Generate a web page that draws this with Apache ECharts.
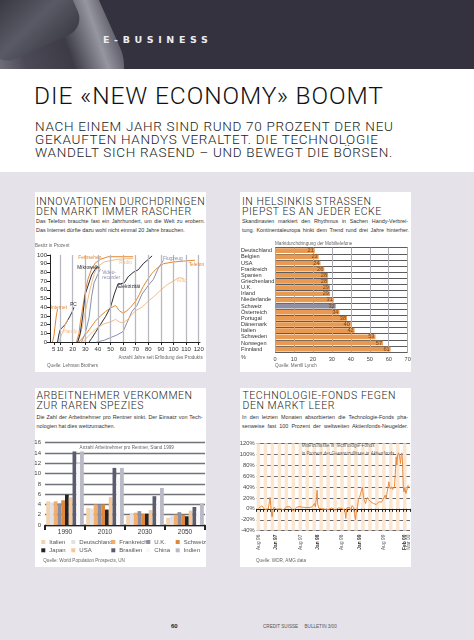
<!DOCTYPE html>
<html><head><meta charset="utf-8">
<script src="https://cdn.jsdelivr.net/npm/echarts@6/dist/echarts.min.js"></script>
<style>
html,body{margin:0;padding:0;}
body{width:474px;height:640px;position:relative;overflow:hidden;background:#e5e3e9;font-family:"Liberation Sans",Arial,sans-serif;color:#222;}
.abs{position:absolute;}
#banner{left:0;top:0;width:474px;height:69px;background:#34323f;overflow:hidden;}
#white{left:0;top:69px;width:474px;height:103px;background:#fff;}
.panel{position:absolute;background:#fff;}
.ttl{position:absolute;font-family:Roboto,"Liberation Sans",sans-serif;font-weight:300;font-size:10.5px;line-height:10px;color:#1e1e22;white-space:nowrap;letter-spacing:0.55px;}
.dl{position:absolute;font-size:5.4px;line-height:9.2px;height:9.2px;color:#333;white-space:nowrap;}
.j{text-align:justify;text-align-last:justify;}
#chart{position:absolute;left:0;top:0;width:474px;height:640px;z-index:5;}
</style></head><body>
<div id="banner" class="abs">
  <div class="abs" style="left:-55px;top:-45px;width:165px;height:175px;border-radius:45px;transform:rotate(-24deg);background:linear-gradient(95deg,#c4c4cc 0%,#85858f 22%,#4b4a56 45%,#3c3b46 70%,#9696a0 88%,#55545f 100%);"></div>
  <div class="abs" style="left:-20px;top:-20px;width:95px;height:70px;border-radius:18px;transform:rotate(-24deg);background:linear-gradient(160deg,#2a2a33,#5a5a66 60%,#3a3a44);"></div>
  <div class="abs" style="left:103px;top:34px;font-family:'DejaVu Sans',sans-serif;font-weight:bold;font-size:9.5px;letter-spacing:4.6px;color:#ececf2;">E-BUSINESS</div>
</div>
<div id="white" class="abs"></div>
<div class="abs" style="left:34px;top:84.4px;font-family:Roboto,'Liberation Sans',sans-serif;font-weight:300;font-size:24.5px;line-height:24.5px;color:#111;white-space:nowrap;letter-spacing:0.9px;">DIE «NEW ECONOMY» BOOMT</div>
<div class="abs" style="left:35px;top:119.7px;font-family:Roboto,'Liberation Sans',sans-serif;font-weight:300;font-size:13.5px;line-height:13.3px;color:#222;white-space:nowrap;letter-spacing:0.7px;">NACH EINEM JAHR SIND RUND 70 PROZENT DER NEU<br>GEKAUFTEN HANDYS VERALTET. DIE TECHNOLOGIE<br>WANDELT SICH RASEND – UND BEWEGT DIE BÖRSEN.</div>

<div class="panel" style="left:35px;top:192px;width:171px;height:180px;"></div>
<div class="panel" style="left:240px;top:192px;width:171px;height:180px;"></div>
<div class="panel" style="left:35px;top:388px;width:171px;height:179px;"></div>
<div class="panel" style="left:240px;top:388px;width:171px;height:179px;"></div>

<div class="ttl" style="left:36px;top:196.9px;">INNOVATIONEN DURCHDRINGEN<br>DEN MARKT IMMER RASCHER</div>
<div class="dl j" style="left:36px;top:217.2px;width:169px;">Das Telefon brauchte fast ein Jahrhundert, um die Welt zu erobern.</div>
<div class="dl" style="left:36px;top:226.4px;">Das Internet dürfte dazu wohl nicht einmal 20 Jahre brauchen.</div>

<div class="ttl" style="left:242px;top:196.9px;">IN HELSINKIS STRASSEN<br>PIEPST ES AN JEDER ECKE</div>
<div class="dl j" style="left:242px;top:217.2px;width:166px;">Skandinavien markiert den Rhythmus in Sachen Handy-Verbrei-</div>
<div class="dl j" style="left:242px;top:226.4px;width:167px;">tung. Kontinentaleuropa hinkt dem Trend rund drei Jahre hinterher.</div>

<div class="ttl" style="left:36.5px;top:391.4px;">ARBEITNEHMER VERKOMMEN<br>ZUR RAREN SPEZIES</div>
<div class="dl j" style="left:36.5px;top:412.8px;width:166px;">Die Zahl der Arbeitnehmer pro Rentner sinkt. Der Einsatz von Tech-</div>
<div class="dl" style="left:36.5px;top:422px;">nologien hat dies wettzumachen.</div>

<div class="ttl" style="left:242.5px;top:391.4px;">TECHNOLOGIE-FONDS FEGEN<br>DEN MARKT LEER</div>
<div class="dl j" style="left:242px;top:413.3px;width:166px;">In den letzten Monaten absorbierten die Technologie-Fonds pha-</div>
<div class="dl j" style="left:242px;top:422px;width:166px;">senweise fast 100 Prozent der weltweiten Aktienfonds-Neugelder.</div>

<div class="abs" style="left:171px;top:623px;font-size:6px;font-weight:bold;color:#222;">60</div>
<div class="abs" style="left:263px;top:624px;font-size:4.6px;color:#555;white-space:nowrap;">CREDIT SUISSE &nbsp;&nbsp;&nbsp; BULLETIN 3/00</div>

<div id="chart"></div>
<script>
// ---------- Chart 1: Innovationen ----------
const innovXLabels = [5,10,20,30,40,50,60,70,80,90,100,110,120];
const innovGridX = [10,20,30,40,50,60,70,80,90,100,110,120];
const innovInternet = [[4,0],[5,6],[6,18],[7,30],[8,38]];
const innovPC = [[8,0],[9,8],[10,14],[12,17],[14,20],[16,25],[18,30],[20,36],[21,40]];
const innovHandy = [[9,0],[10,4],[11,8],[12,11],[13,15],[14,19],[15,23],[16,26]];
const innovFernsehen = [[23,0],[25,10],[26,22],[28,40],[30,58],[32,72],[35,84],[38,91],[42,95],[48,98],[60,98],[68,98]];
const innovRadio = [[24,0],[26,8],[28,20],[31,42],[34,62],[37,78],[40,87],[45,92],[55,95],[68,96]];
const innovMikrowelle = [[24,0],[26,10],[28,30],[30,55],[32,64],[35,77],[38,84],[40,87]];
const innovVideo = [[27,0],[30,10],[33,28],[35,52],[37,68],[40,78],[42,84]];
const innovElektrizitaet = [[33,0],[35,4],[38,11],[42,20],[46,29],[50,40],[53,55],[56,67],[58,67],[61,68],[64,75],[68,80],[72,83],[76,90],[80,95],[83,99]];
const innovFlugzeug = [[39,0],[45,2],[50,5],[55,8],[60,12],[63,22],[67,35],[71,42],[75,55],[80,65],[84,72],[88,85],[92,94]];
const innovTelefon = [[25,0],[28,5],[31,10],[34,16],[38,24],[42,30],[46,35],[50,39],[54,42],[57,36],[60,33],[63,36],[66,40],[70,47],[73,55],[76,64],[80,73],[83,79],[87,85],[92,90],[100,92],[108,93],[117,94]];
const innovAuto = [[28,0],[32,6],[36,12],[40,17],[45,21],[50,23],[54,26],[57,23],[60,22],[63,25],[66,30],[70,36],[75,40],[80,47],[85,53],[90,60],[95,66],[100,70],[104,74],[108,73]];
const innovLabels = [
  ['Internet',2.6,40,'orange'],['PC',18,43,'dark'],['Handy',12.5,12,'peach'],
  ['Fernsehen',24.5,97,'orange'],['Radio',57,91,'peach'],['Mikrowelle',23.7,85.5,'dark'],
  ['Video-\nrecorder',43.4,77,'gray'],['Elektrizität',56,64,'dark'],['Flugzeug',91.6,95.5,'gray'],
  ['Telefon',112,89,'orange'],['Auto',102.6,71,'peach']
];

// ---------- Chart 2: Helsinki ----------
const mobileCountries = ['Deutschland','Belgien','USA','Frankreich','Spanien','Griechenland','U.K.','Irland','Niederlande','Schweiz','Österreich','Portugal','Dänemark','Italien','Schweden','Norwegen','Finnland'];
const mobileValues = [21,23,24,26,28,28,29,29,31,32,34,38,40,42,53,57,61];

// ---------- Chart 3: Arbeitnehmer ----------
const workerYears = ['1990','2010','2030','2050'];
const workerCountries = ['Italien','Deutschland','Frankreich','U.K.','Schweiz','Japan','USA','Brasilien','China','Indien'];
const workerItalien = [4.6,3.3,1.8,1.4];
const workerDeutschland = [4.4,3.2,2.2,1.7];
const workerFrankreich = [4.6,4.0,2.4,2.0];
const workerUK = [4.2,4.0,2.7,2.5];
const workerSchweiz = [4.8,4.0,2.2,2.0];
const workerJapan = [5.9,3.0,2.2,1.7];
const workerUSA = [5.4,5.4,2.9,2.8];
const workerBrasilien = [14.3,11.1,5.6,3.5];
const workerChina = [12.0,9.2,4.8,2.7];
const workerIndien = [14.3,11.1,7.2,4.2];

// ---------- Chart 4: Technologie-Fonds ----------
const fundMonthLabels = ['Aug 96','Sep 96','Okt 96','Nov 96','Dez 96','Jan 97','Feb 97','Mar 97','Apr 97','Mai 97','Jun 97','Jul 97','Aug 97','Sep 97','Okt 97','Nov 97','Dez 97','Jan 98','Feb 98','Mar 98','Apr 98','Mai 98','Jun 98','Jul 98','Aug 98','Sep 98','Okt 98','Nov 98','Dez 98','Jan 99','Feb 99','Mar 99','Apr 99','Mai 99','Jun 99','Jul 99','Aug 99','Sep 99','Okt 99','Nov 99','Dez 99','Jan 00','Feb 00','Mar 00'];
const fundShownLabels = ['Aug 96','Jan 97','Aug 97','Jan 98','Aug 98','Jan 99','Aug 99','Feb 00','Mar 00'];
const fundBoldLabels = ['Jan 97','Jan 98','Jan 99','Feb 00'];
const fundTime = [0.48,0.96,1.44,1.92,2.39,2.87,3.35,3.64,3.83,4.02,4.21,4.41,4.69,4.98,5.36,5.75,6.23,6.70,7.18,7.66,8.14,8.62,9.10,9.58,10.06,10.54,10.82,11.21,11.69,12.16,12.64,13.12,13.60,14.08,14.56,15.04,15.52,15.90,16.28,16.57,16.86,17.15,17.34,17.53,17.82,18.20,18.68,19.16,19.64,20.11,20.59,21.07,21.55,22.03,22.51,22.99,23.47,23.95,24.43,24.90,25.29,25.57,25.86,26.25,26.63,27.01,27.39,27.78,28.07,28.35,28.64,28.93,29.21,29.50,29.79,30.08,30.36,30.65,30.94,31.23,31.51,31.80,32.09,32.38,32.76,33.14,33.52,33.91,34.29,34.67,35.06,35.44,35.82,36.21,36.59,36.88,37.16,37.45,37.74,37.93,38.12,38.41,38.70,38.98,39.27,39.56,39.85,40.04,40.23,40.42,40.71,41.00,41.28,41.48,41.67,41.86,42.05,42.24,42.53,42.82,43.10,43.39,43.68,43.97];
const fundShare = [0.6,3.7,5.5,2.4,-1.2,-2.4,0,12.8,20.8,6.7,-5.5,-14.7,-2.4,3.1,3.7,-0.6,1.8,0,-2.4,-1.8,1.2,3.7,2.4,3.7,0.6,-4.3,-1.8,1.8,3.1,4.3,4.9,3.1,1.8,2.4,1.8,2.4,0,3.7,6.1,9.8,3.7,22,34.2,8.5,1.2,-0.6,0,-2.4,-0.6,1.2,-1.2,0,1.8,-0.6,-2.4,0,1.8,-0.6,0.6,-1.2,-2.4,-17.7,1.8,-0.6,2.4,-2.4,6.1,2.4,-8.5,-19.5,-3.7,3.7,17.1,20.8,26.9,34.2,39.1,20.8,14.7,9.8,17.1,20.8,17.1,14.7,12.8,13.4,9.8,8.5,7.9,9.8,12.8,14.7,12.2,17.1,20.8,25,19.5,31.1,41.5,49.5,41.5,36.6,40.3,35.4,37.3,40.3,73.9,95.3,80,98.3,102.6,96.5,83.1,98.3,102.6,86.1,40.3,31.1,39.1,28.1,34.2,42.7,41.5,39.1];

// ---------- styling ----------
const FONT = '"Liberation Sans", Arial, sans-serif';
const C = {orange:'#e4862f', peach:'#f2bc86', dark:'#2b2b35', gray:'#8a8eab'};
const workerColors = ['#f3d2ae','#e2e1e8','#f0ad6c','#8e8ea2','#e0883a','#23232a','#f3c796','#5c5c70','#f7f7f9','#b9b9c6'];
const legendCols = [43.3,73.3,113.3,148.3,177.7];

const chart = echarts.init(document.getElementById('chart'), null, {renderer:'canvas'});

function innovLine(name, data, color){
  return {name, type:'line', xAxisIndex:0, yAxisIndex:0, data, symbol:'none', smooth:false,
    lineStyle:{color, width:1}, silent:true, z:3};
}
const workerData = [workerItalien,workerDeutschland,workerFrankreich,workerUK,workerSchweiz,workerJapan,workerUSA,workerBrasilien,workerChina,workerIndien];

const option = {
  animation:false,
  textStyle:{fontFamily:FONT},
  grid:[
    {left:50, top:255, width:150, height:87, outerBoundsMode:'none'},
    {left:275, top:247.6, width:132.7, height:104.6, outerBoundsMode:'none'},
    {left:45, top:442.7, width:160, height:82.3, outerBoundsMode:'none'},
    {left:256.7, top:443.3, width:153.3, height:87.4, outerBoundsMode:'none'}
  ],
  xAxis:[
    {gridIndex:0, type:'value', min:2, max:121,
      axisLine:{lineStyle:{color:'#222', width:1}},
      axisTick:{customValues:innovXLabels, length:3, lineStyle:{color:'#222'}},
      axisLabel:{customValues:innovXLabels, fontSize:6, color:'#333', margin:4},
      splitLine:{show:false}},
    {gridIndex:1, type:'value', min:0, max:70, interval:10,
      axisLine:{show:false}, axisTick:{show:false},
      axisLabel:{fontSize:5.6, color:'#444', margin:4},
      splitLine:{show:true, lineStyle:{color:'#a9a9b3', width:1}}},
    {gridIndex:2, type:'category', data:workerYears,
      axisLine:{lineStyle:{color:'#222', width:1.3}},
      axisTick:{show:true, length:5, lineStyle:{color:'#222', width:2}},
      axisLabel:{fontSize:6.5, color:'#333', margin:4}},
    {gridIndex:3, type:'category', data:fundMonthLabels, boundaryGap:true,
      axisLine:{lineStyle:{color:'#222', width:1}},
      axisTick:{show:true, interval:0, length:3, lineStyle:{color:'#222'}},
      axisLabel:{interval:0, rotate:90, fontSize:4.8, color:'#555', margin:4,
        formatter:(v)=> fundShownLabels.includes(v) ? (fundBoldLabels.includes(v) ? '{b|'+v+'}' : v) : '',
        rich:{b:{fontWeight:'bold', fontSize:4.8, color:'#333'}}},
      splitArea:{show:true, interval:0, areaStyle:{color:['#fde6cf','rgba(255,255,255,0)']}},
      splitLine:{show:false}},
    {gridIndex:3, type:'value', min:0, max:44, show:false}
  ],
  yAxis:[
    {gridIndex:0, type:'value', min:0, max:100, interval:10,
      axisLine:{show:true, lineStyle:{color:'#222', width:1}},
      axisTick:{show:true, length:3, lineStyle:{color:'#222'}},
      axisLabel:{fontSize:6, color:'#333', margin:3},
      splitLine:{show:false}},
    {gridIndex:1, type:'category', data:mobileCountries, inverse:true,
      axisLine:{show:false}, axisTick:{show:false},
      axisLabel:{interval:0, fontSize:5.6, color:'#333', align:'left', margin:34},
      splitLine:{show:true, interval:0, lineStyle:{color:'#333', width:0.8}}},
    {gridIndex:2, type:'value', min:0, max:16, interval:2,
      axisLine:{show:false}, axisTick:{show:false},
      axisLabel:{fontSize:6, color:'#444', margin:4},
      splitLine:{show:true, lineStyle:{color:'#727279', width:1.3}}},
    {gridIndex:3, type:'value', min:-40, max:120, interval:20,
      axisLine:{show:false}, axisTick:{show:false},
      axisLabel:{fontSize:5.8, color:'#444', margin:2, formatter:'{value}%'},
      splitLine:{show:true, lineStyle:{color:'#66666e', width:1.2}}}
  ],
  legend: workerCountries.map((n,i)=>({
    data:[n], left:legendCols[i%5]-2, top:(i<5?539:547.3), padding:0,
    itemWidth:4, itemHeight:4, icon:'rect', selectedMode:false,
    textStyle:{fontSize:6, color:'#555', padding:[0,0,0,-1]}
  })),
  series:[
    {name:'_grid', type:'line', xAxisIndex:0, yAxisIndex:0, data:[], silent:true, z:1,
      markLine:{silent:true, symbol:'none', label:{show:false},
        lineStyle:{color:'#b9b9c3', width:1.3, type:'solid'},
        data:innovGridX.map(v=>({xAxis:v}))}},
    innovLine('Internet', innovInternet, C.orange),
    innovLine('PC', innovPC, C.dark),
    innovLine('Handy', innovHandy, C.peach),
    innovLine('Fernsehen', innovFernsehen, C.orange),
    innovLine('Radio', innovRadio, C.peach),
    innovLine('Mikrowelle', innovMikrowelle, C.dark),
    innovLine('Videorecorder', innovVideo, C.gray),
    innovLine('Elektrizität', innovElektrizitaet, C.dark),
    innovLine('Flugzeug', innovFlugzeug, C.gray),
    innovLine('Telefon', innovTelefon, C.orange),
    innovLine('Auto', innovAuto, C.peach),
    {name:'Marktdurchdringung', type:'bar', xAxisIndex:1, yAxisIndex:1, barWidth:'76%',
      data: mobileValues.map((v,i)=>({value:v, itemStyle:{color: mobileCountries[i]==='Schweiz' ? '#9090a4' : '#e99a52'}})),
      label:{show:true, position:'insideRight', distance:1, fontSize:5.6, color:'#7a4414'}, silent:true, z:3},
    ...workerCountries.map((n,i)=>({
      name:n, type:'bar', xAxisIndex:2, yAxisIndex:2, data:workerData[i],
      barGap:'0%', barCategoryGap:'6%', itemStyle:{color:workerColors[i]}, silent:true, z:3})),
    {name:'Tech', type:'line', xAxisIndex:4, yAxisIndex:3,
      data: fundTime.map((t,i)=>[t, fundShare[i]]), symbol:'none',
      lineStyle:{color:'#e8883a', width:1}, silent:true, z:4}
  ]
};
chart.setOption(option);

// annotations
const txt = (x,y,text,o={}) => ({type:'text', x, y, silent:true, z:10,
  style:Object.assign({text, fontSize:4.6, fill:'#666', fontFamily:FONT, textVerticalAlign:'middle'}, o)});
const graphics = [
  txt(35,245.7,'Besitz in Prozent'),
  txt(202.7,357.7,'Anzahl Jahre seit Erfindung des Produkts',{textAlign:'right'}),
  txt(47,365.7,'Quelle: Lehman Brothers'),
  txt(275,244,'Marktdurchdringung der Mobiltelefone'),
  txt(241,357.7,'%',{fontSize:5.6, fill:'#444'}),
  txt(275,366,'Quelle: Merrill Lynch'),
  txt(126.7,447.7,'Anzahl Arbeitnehmer pro Rentner, Stand 1999',{textAlign:'center'}),
  txt(43.3,560.7,'Quelle: World Population Prospects, UN'),
  txt(301.7,449.5,'Mittelzuflüsse in Technologie-Fonds\nin Prozent der Gesamtzuflüsse in Aktienfonds',{lineHeight:7.6}),
  txt(256,560.7,'Quelle: WDR, AMG data')
];
innovLabels.forEach(([name,v,p,col])=>{
  const pt = chart.convertToPixel({xAxisIndex:0, yAxisIndex:0}, [v,p]);
  graphics.push(txt(pt[0], pt[1], name, {fill:C[col], fontSize:4.8, lineHeight:5}));
});
chart.setOption({graphic:graphics});
</script>
</body></html>
